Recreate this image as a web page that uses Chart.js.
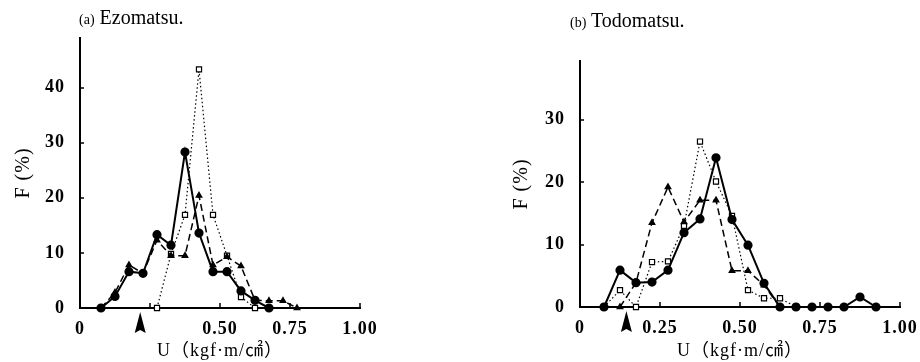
<!DOCTYPE html>
<html>
<head>
<meta charset="utf-8">
<script src="https://cdn.jsdelivr.net/npm/chart.js@4/dist/chart.umd.min.js"></script>
<style>
  body { margin: 0; background: #fff; width: 920px; height: 362px; position: relative; overflow: hidden; font-family: "Liberation Serif", serif; }
  .panel { position: absolute; top: 0; width: 460px; height: 362px; }
  .panel canvas { position: absolute; left: 0; top: 0; }
  .ttl { position: absolute; font-size: 20px; line-height: 20px; color: #000; white-space: nowrap; }
  .ttl small { font-size: 14px; }
</style>
</head>
<body>
<div class="panel" style="left:0">
  <canvas id="chartA" width="460" height="362"></canvas>
  <div class="ttl" style="left:79px;top:7px"><small>(a)</small> Ezomatsu.</div>
</div>
<div class="panel" style="left:460px">
  <canvas id="chartB" width="460" height="362"></canvas>
  <div class="ttl" style="left:110px;top:10px"><small>(b)</small> Todomatsu.</div>
</div>
<script>
// (a) Ezomatsu
const aSolidX = [0.075, 0.125, 0.175, 0.225, 0.275, 0.325, 0.375, 0.425, 0.475, 0.525, 0.575, 0.625, 0.675];
const aSolid = [0, 2.1, 6.6, 6.3, 13.3, 11.4, 28.3, 13.6, 6.6, 6.6, 3.1, 1.4, 0];
const aDashedX = [0.075, 0.125, 0.175, 0.225, 0.275, 0.325, 0.375, 0.425, 0.475, 0.525, 0.575, 0.625, 0.675, 0.725, 0.775];
const aDashed = [0, 2.8, 7.8, 6.3, 12.3, 9.5, 9.5, 20.4, 7.8, 9.3, 7.6, 1.4, 1.3, 1.3, 0];
const aDottedX = [0.275, 0.325, 0.375, 0.425, 0.475, 0.525, 0.575, 0.625];
const aDotted = [0, 9.8, 16.9, 43.3, 16.9, 9.5, 2.0, 0];
const aYTicks = [0, 10, 20, 30, 40];
const aXLabels = ["0", "", "0.50", "0.75", "1.00"];
const aArrow = 0.215;

// (b) Todomatsu
const bSolidX = [0.075, 0.125, 0.175, 0.225, 0.275, 0.325, 0.375, 0.425, 0.475, 0.525, 0.575, 0.625, 0.675, 0.725, 0.775, 0.825, 0.875, 0.925];
const bSolid = [0, 5.9, 3.9, 4.0, 5.9, 11.9, 14.1, 23.9, 14.0, 9.9, 3.8, 0, 0, 0, 0, 0, 1.6, 0];
const bDashedX = [0.125, 0.175, 0.225, 0.275, 0.325, 0.375, 0.425, 0.475, 0.525, 0.575, 0.625];
const bDashed = [0, 3.9, 13.5, 19.2, 13.6, 17.1, 17.1, 5.8, 5.8, 3.5, 0];
const bDottedX = [0.075, 0.125, 0.175, 0.225, 0.275, 0.325, 0.375, 0.425, 0.475, 0.525, 0.575, 0.625, 0.675];
const bDotted = [0, 2.7, 0, 7.2, 7.3, 13.0, 26.5, 20.1, 14.6, 2.7, 1.4, 1.4, 0];
const bYTicks = [0, 10, 20, 30];
const bXLabels = ["0", "0.25", "0.50", "0.75", "1.00"];
const bArrow = 0.145;

const xTicks = [0, 0.25, 0.5, 0.75, 1];
const FONT = '"Liberation Serif", "Noto Sans CJK JP", serif';

function pairs(xs, ys) {
  return xs.map((x, i) => ({ x: x, y: ys[i] }));
}

// inward tick marks + the arrow under the x axis
const marksPlugin = {
  id: "marks",
  beforeDraw(chart) {
    chart.ctx.letterSpacing = "1px";
  },
  afterDatasetsDraw(chart, args, opts) {
    const ctx = chart.ctx;
    const xs = chart.scales.x, ys = chart.scales.y;
    ctx.save();
    ctx.strokeStyle = "#000";
    ctx.lineWidth = 1.5;
    ctx.beginPath();
    xs.ticks.forEach((t) => {
      if (t.value === 0) return;
      const px = Math.round(xs.getPixelForValue(t.value));
      ctx.moveTo(px, ys.bottom);
      ctx.lineTo(px, ys.bottom - 5);
    });
    ys.ticks.forEach((t) => {
      if (t.value === 0) return;
      const py = Math.round(ys.getPixelForValue(t.value));
      ctx.moveTo(xs.left, py);
      ctx.lineTo(xs.left + 4, py);
    });
    ctx.stroke();
    const ax = xs.getPixelForValue(opts.arrow);
    const top = ys.bottom + 4;
    ctx.fillStyle = "#000";
    ctx.beginPath();
    ctx.moveTo(ax, top);
    ctx.lineTo(ax + 5.5, top + 21);
    ctx.lineTo(ax, top + 18);
    ctx.lineTo(ax - 5.5, top + 21);
    ctx.closePath();
    ctx.fill();
    ctx.restore();
  },
};

function makeChart(id, d) {
  const ctx = document.getElementById(id).getContext("2d");
  return new Chart(ctx, {
    type: "line",
    data: {
      datasets: [
        {
          data: pairs(d.solidX, d.solid),
          borderColor: "#000",
          borderWidth: 2,
          pointStyle: "circle",
          pointRadius: 3.6,
          pointBackgroundColor: "#000",
          pointBorderColor: "#000",
          clip: false,
          order: 1,
        },
        {
          data: pairs(d.dashedX, d.dashed),
          borderColor: "#000",
          borderWidth: 1.5,
          borderDash: [7, 4],
          pointStyle: "triangle",
          pointRadius: 3,
          pointBackgroundColor: "#000",
          pointBorderColor: "#000",
          clip: false,
          order: 2,
        },
        {
          data: pairs(d.dottedX, d.dotted),
          borderColor: "#000",
          borderWidth: 1.2,
          borderDash: [1.5, 2.5],
          pointStyle: "rect",
          pointRadius: 3.6,
          pointBackgroundColor: "#fff",
          pointBorderColor: "#000",
          pointBorderWidth: 1.2,
          clip: false,
          order: 3,
        },
      ],
    },
    options: {
      responsive: false,
      animation: false,
      layout: { padding: { left: 0, right: d.padRight, top: d.padTop, bottom: 0 } },
      plugins: {
        legend: { display: false },
        tooltip: { enabled: false },
        marks: { arrow: d.arrow },
      },
      elements: { line: { tension: 0 } },
      scales: {
        x: {
          type: "linear",
          min: 0,
          max: 1,
          afterBuildTicks: (s) => { s.ticks = xTicks.map((v) => ({ value: v })); },
          afterFit: (s) => { s.height = d.xHeight; },
          grid: { display: false },
          border: { display: true, color: "#000", width: 2 },
          ticks: {
            padding: 3,
            color: "#000",
            maxRotation: 0,
            font: { family: FONT, size: 18, weight: "bold" },
            callback: (v, i) => d.xLabels[i],
          },
          title: {
            display: true,
            text: "U（kgf·m/㎠）",
            color: "#000",
            font: { family: FONT, size: 18 },
            padding: { top: 0, bottom: 0 },
          },
        },
        y: {
          min: 0,
          max: d.yMax,
          afterBuildTicks: (s) => { s.ticks = d.yTicks.map((v) => ({ value: v })); },
          afterFit: (s) => { s.width = d.yWidth; },
          grid: { display: false },
          border: { display: true, color: "#000", width: 2 },
          ticks: {
            padding: 7,
            color: "#000",
            font: { family: FONT, size: 18, weight: "bold" },
          },
          title: {
            display: true,
            text: "F (%)",
            color: "#000",
            font: { family: FONT, size: 20 },
            padding: { top: d.yTitlePad, bottom: 0 },
          },
        },
      },
    },
    plugins: [marksPlugin],
  });
}

makeChart("chartA", {
  solidX: aSolidX, solid: aSolid,
  dashedX: aDashedX, dashed: aDashed,
  dottedX: aDottedX, dotted: aDotted,
  yTicks: aYTicks, xLabels: aXLabels, arrow: aArrow,
  yMax: 49, padTop: 38, padRight: 100, xHeight: 54, yWidth: 80, yTitlePad: 12,
});

makeChart("chartB", {
  solidX: bSolidX, solid: bSolid,
  dashedX: bDashedX, dashed: bDashed,
  dottedX: bDottedX, dotted: bDotted,
  yTicks: bYTicks, xLabels: bXLabels, arrow: bArrow,
  yMax: 39.4, padTop: 61, padRight: 20, xHeight: 55, yWidth: 120, yTitlePad: 50,
});
</script>
</body>
</html>
